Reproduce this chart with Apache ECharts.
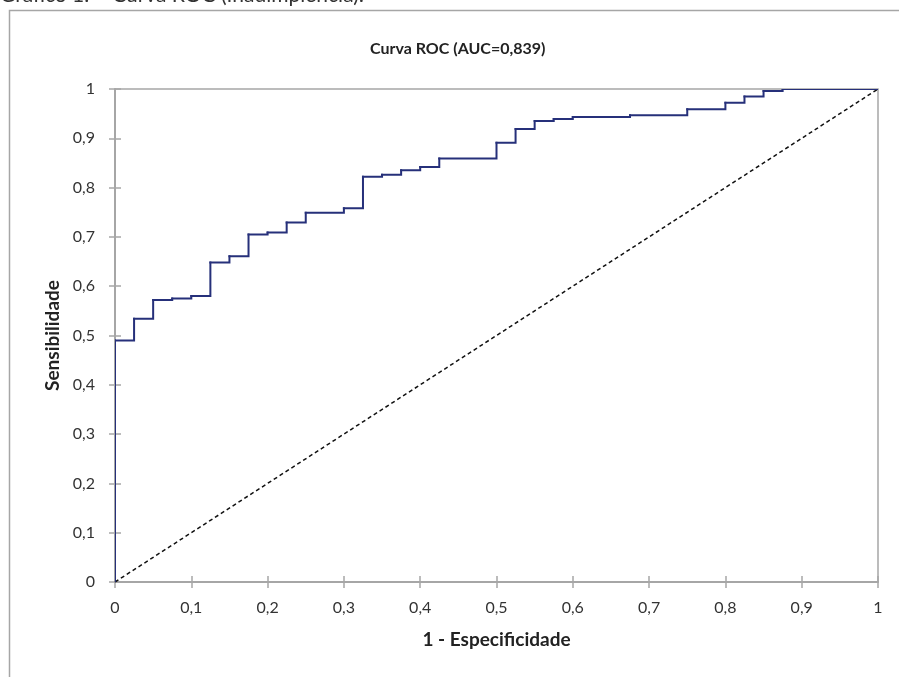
<!DOCTYPE html>
<html>
<head>
<meta charset="utf-8">
<script src="https://cdn.jsdelivr.net/npm/echarts@6/dist/echarts.min.js"></script>
<style>
  html, body { margin: 0; padding: 0; background: #fff; }
  #roc { width: 899px; height: 677px; }
</style>
</head>
<body>
<div id="roc"></div>
<script>
  // 1 - especificidade (taxa de falsos positivos) e sensibilidade
  var fpr = [0, 0, 0.025, 0.05, 0.075, 0.1, 0.125, 0.15, 0.175, 0.2, 0.225, 0.25, 0.3, 0.325, 0.35,
             0.375, 0.4, 0.425, 0.5, 0.525, 0.55, 0.575, 0.6, 0.675, 0.75, 0.8, 0.825, 0.85, 0.875, 1];
  var tpr = [0, 0.49, 0.534, 0.572, 0.575, 0.58, 0.648, 0.661, 0.705, 0.709, 0.729, 0.749, 0.758, 0.822, 0.826,
             0.835, 0.842, 0.859, 0.891, 0.919, 0.935, 0.939, 0.943, 0.947, 0.959, 0.972, 0.985, 0.996, 1, 1];
  var refX = [0, 1];
  var refY = [0, 1];

  var axisGray = '#a6a6a6';
  var rocColor = '#26307a';
  var fontFam = 'Lato, "Open Sans", sans-serif';

  function fmt(v) {
    return String(Math.round(v * 10) / 10).replace('.', ',');
  }

  // cada item: [fpr, tpr, fpr anterior, tpr anterior] -> um degrau
  var stepData = [];
  for (var i = 1; i < fpr.length; i++) {
    stepData.push([fpr[i], tpr[i], fpr[i - 1], tpr[i - 1]]);
  }
  var refData = refX.map(function (x, i) { return [x, refY[i]]; });

  function renderStep(params, api) {
    var p0 = api.coord([api.value(2), api.value(3)]);
    var p1 = api.coord([api.value(0), api.value(3)]);
    var p2 = api.coord([api.value(0), api.value(1)]);
    return {
      type: 'polyline',
      shape: { points: [p0, p1, p2] },
      style: { stroke: rocColor, lineWidth: 2, fill: null, lineCap: 'square', lineJoin: 'miter' }
    };
  }

  var chart = echarts.init(document.getElementById('roc'));
  var option = {
    backgroundColor: '#fff',
    animation: false,
    title: {
      text: 'Curva ROC (AUC=0,839)',
      left: 365,
      top: 36,
      textStyle: { color: '#222', fontWeight: 'bold', fontSize: 16, fontFamily: fontFam }
    },
    graphic: [
      {
        type: 'text', left: 0, top: -15,
        style: { text: 'Gráfico 1. – Curva ROC (Inadimplência):', fontSize: 21, fill: '#333', fontFamily: fontFam }
      },
      {
        type: 'rect', left: 7, top: 8,
        shape: { width: 910, height: 700 },
        style: { fill: 'none', stroke: axisGray, lineWidth: 1.5 }
      }
    ],
    grid: {
      left: 115, right: 21, top: 89, bottom: 95,
      show: true, borderColor: axisGray, borderWidth: 1.5
    },
    xAxis: [
      {
        type: 'value', min: 0, max: 1, interval: 0.1,
        name: '1 - Especificidade', nameLocation: 'middle', nameGap: 48,
        nameTextStyle: { color: '#222', fontWeight: 'bold', fontSize: 19, fontFamily: fontFam },
        axisLine: { show: true, lineStyle: { color: axisGray, width: 2 } },
        axisTick: { show: true, length: 6, lineStyle: { color: axisGray, width: 1.5 } },
        axisLabel: { color: '#333', fontSize: 16, margin: 18, fontFamily: fontFam, formatter: fmt },
        splitLine: { show: false }
      },
      {
        type: 'value', min: 0, max: 1, interval: 0.1, position: 'bottom',
        axisLine: { show: false },
        axisTick: { show: true, inside: true, length: 6, lineStyle: { color: axisGray, width: 1.5 } },
        axisLabel: { show: false },
        splitLine: { show: false }
      }
    ],
    yAxis: [
      {
        type: 'value', min: 0, max: 1, interval: 0.1,
        name: 'Sensibilidade', nameLocation: 'middle', nameGap: 53, nameRotate: 90,
        nameTextStyle: { color: '#222', fontWeight: 'bold', fontSize: 19, fontFamily: fontFam },
        axisLine: { show: true, lineStyle: { color: axisGray, width: 2 } },
        axisTick: { show: true, length: 6, lineStyle: { color: axisGray, width: 1.5 } },
        axisLabel: { color: '#333', fontSize: 16, margin: 20, fontFamily: fontFam, formatter: fmt },
        splitLine: { show: false }
      },
      {
        type: 'value', min: 0, max: 1, interval: 0.1, position: 'left',
        axisLine: { show: false },
        axisTick: { show: true, inside: true, length: 6, lineStyle: { color: axisGray, width: 1.5 } },
        axisLabel: { show: false },
        splitLine: { show: false }
      }
    ],
    series: [
      {
        name: 'Referência',
        type: 'line',
        data: refData,
        symbol: 'none',
        lineStyle: { color: '#111', width: 1.5, type: [4, 3] },
        z: 2
      },
      {
        name: 'ROC',
        type: 'custom',
        renderItem: renderStep,
        data: stepData,
        encode: { x: [0, 2], y: [1, 3] },
        clip: true,
        z: 3
      }
    ]
  };
  chart.setOption(option);
</script>
</body>
</html>
